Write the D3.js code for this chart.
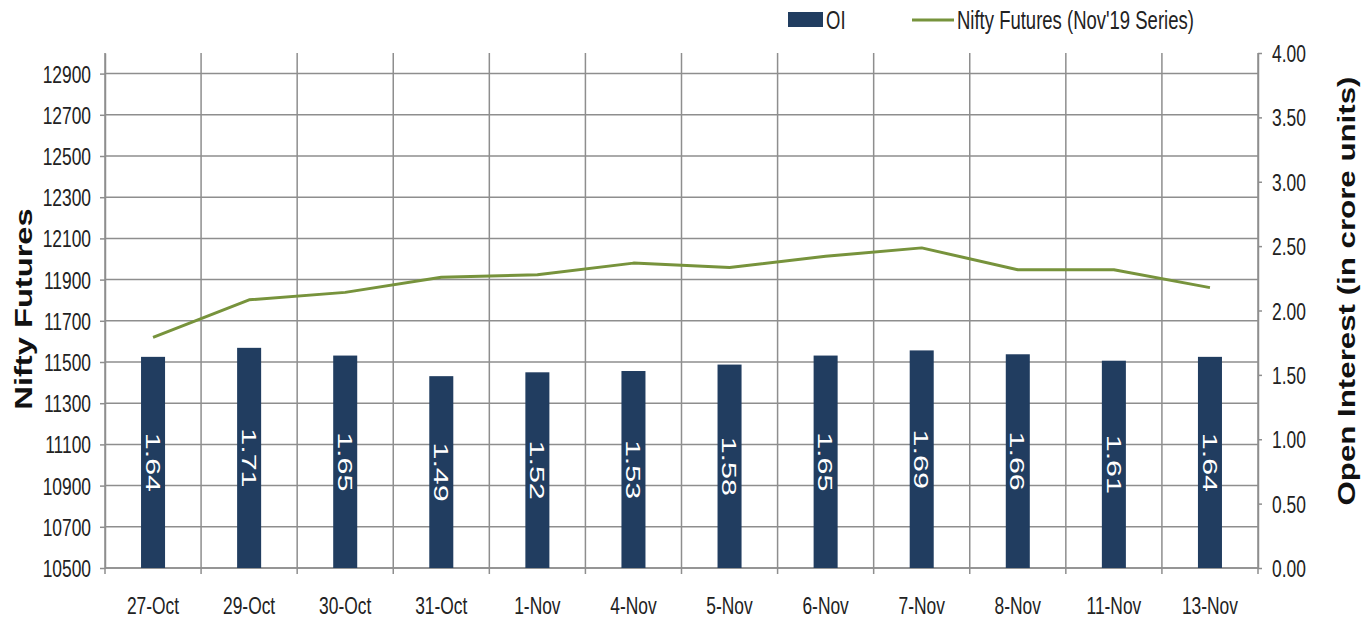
<!DOCTYPE html>
<html>
<head>
<meta charset="utf-8">
<script src="https://cdn.jsdelivr.net/npm/d3@7"></script>
<style>
  body { margin: 0; background: #fff; }
  svg text { font-family: 'Liberation Sans', Arial, sans-serif; }
</style>
</head>
<body>
<div class="chart-container"></div>
<script>
const categories = ['27-Oct', '29-Oct', '30-Oct', '31-Oct', '1-Nov', '4-Nov', '5-Nov', '6-Nov', '7-Nov', '8-Nov', '11-Nov', '13-Nov']
const oiValues = [1.64, 1.71, 1.65, 1.49, 1.52, 1.53, 1.58, 1.65, 1.69, 1.66, 1.61, 1.64]
const niftyValues = [11620, 11802, 11838, 11911, 11923, 11980, 11959, 12013, 12054, 11948, 11948, 11861]
const leftTicks = d3.range(10500, 12901, 200)
const rightTicks = d3.range(0, 4.01, 0.5)

const width = 1371
const height = 622
const plot = { left: 105, right: 1258, top: 53, bottom: 568 }
// the source picture is stretched vertically, so text gets scaled the same way
const STRETCH = 1.36
const BAR_COLOR = '#213d60'
const LINE_COLOR = '#77933c'
const GRID_COLOR = '#8e8e8e'
const TEXT_COLOR = '#222'

const svg = d3
    .select('.chart-container')
    .append('svg')
    .attr('width', width)
    .attr('height', height)

const x = d3
    .scaleBand()
    .domain(categories)
    .range([plot.left, plot.right])
    .padding(0)

const yLeft = d3.scaleLinear().domain([10500, 13000]).range([plot.bottom, plot.top])
const yRight = d3.scaleLinear().domain([0, 4]).range([plot.bottom, plot.top])

const data = categories.map((c, i) => ({ cat: c, oi: oiValues[i], nifty: niftyValues[i] }))

// grid
svg.append('g')
    .selectAll('line')
    .data(leftTicks)
    .enter()
    .append('line')
    .attr('x1', plot.left)
    .attr('x2', plot.right)
    .attr('y1', d => yLeft(d))
    .attr('y2', d => yLeft(d))
    .attr('stroke', GRID_COLOR)
    .attr('stroke-width', 1.5)

const bounds = categories.map(c => x(c)).concat([plot.right])
svg.append('g')
    .selectAll('line')
    .data(bounds)
    .enter()
    .append('line')
    .attr('x1', d => d)
    .attr('x2', d => d)
    .attr('y1', plot.top)
    .attr('y2', plot.bottom + 6)
    .attr('stroke', GRID_COLOR)
    .attr('stroke-width', 1.5)

// x baseline
svg.append('line')
    .attr('x1', plot.left)
    .attr('x2', plot.right)
    .attr('y1', plot.bottom)
    .attr('y2', plot.bottom)
    .attr('stroke', GRID_COLOR)
    .attr('stroke-width', 1.5)

function stretchText(sel, k) {
    sel.attr('transform', `scale(1,${k})`)
}

// left axis
const leftAxis = svg
    .append('g')
    .attr('transform', `translate(${plot.left},0)`)
    .call(
        d3.axisLeft(yLeft)
            .tickValues(leftTicks)
            .tickFormat(d3.format('d'))
            .tickSize(5)
            .tickSizeOuter(0)
            .tickPadding(9)
    )
leftAxis.select('.domain').attr('stroke', GRID_COLOR).attr('stroke-width', 1.5)
leftAxis.selectAll('.tick line').attr('stroke', GRID_COLOR).attr('stroke-width', 1.5)
leftAxis
    .selectAll('.tick text')
    .attr('font-size', 17.4)
    .attr('fill', TEXT_COLOR)
    .attr('dy', '0.36em')
    .call(stretchText, STRETCH)

// right axis
const rightAxis = svg
    .append('g')
    .attr('transform', `translate(${plot.right},0)`)
    .call(
        d3.axisRight(yRight)
            .tickValues(rightTicks)
            .tickFormat(d3.format('.2f'))
            .tickSize(4)
            .tickSizeOuter(0)
            .tickPadding(10)
    )
rightAxis.select('.domain').attr('stroke', GRID_COLOR).attr('stroke-width', 1.5)
rightAxis.selectAll('.tick line').attr('stroke', GRID_COLOR).attr('stroke-width', 1.5)
rightAxis
    .selectAll('.tick text')
    .attr('font-size', 17.4)
    .attr('fill', TEXT_COLOR)
    .attr('dy', '0.36em')
    .call(stretchText, STRETCH)

// x labels
svg.append('g')
    .selectAll('g')
    .data(categories)
    .enter()
    .append('g')
    .attr('transform', d => `translate(${x(d) + x.bandwidth() / 2},${plot.bottom + 46})`)
    .append('text')
    .attr('text-anchor', 'middle')
    .attr('font-size', 17.4)
    .attr('fill', TEXT_COLOR)
    .text(d => d)
    .call(stretchText, STRETCH)

// bars
const barW = x.bandwidth() * 0.25
svg.append('g')
    .selectAll('rect')
    .data(data)
    .enter()
    .append('rect')
    .attr('x', d => x(d.cat) + (x.bandwidth() - barW) / 2)
    .attr('y', d => yRight(d.oi))
    .attr('width', barW)
    .attr('height', d => plot.bottom - yRight(d.oi))
    .attr('fill', BAR_COLOR)

// bar labels, rotated clockwise
svg.append('g')
    .selectAll('text')
    .data(data)
    .enter()
    .append('text')
    .attr('transform', d => {
        const cx = x(d.cat) + x.bandwidth() / 2
        const cy = (yRight(d.oi) + plot.bottom) / 2
        return `translate(${cx},${cy}) rotate(90) scale(1.45,1)`
    })
    .attr('text-anchor', 'middle')
    .attr('dy', '0.35em')
    .attr('font-size', 21)
    .attr('fill', '#fff')
    .text(d => d.oi.toFixed(2))

// nifty line
const line = d3
    .line()
    .x(d => x(d.cat) + x.bandwidth() / 2)
    .y(d => yLeft(d.nifty))
svg.append('path')
    .datum(data)
    .attr('d', line)
    .attr('fill', 'none')
    .attr('stroke', LINE_COLOR)
    .attr('stroke-width', 3)
    .attr('stroke-linejoin', 'round')

// axis titles
svg.append('text')
    .attr('transform', `translate(32,309) rotate(-90) scale(1.42,1)`)
    .attr('text-anchor', 'middle')
    .attr('font-size', 23)
    .attr('font-weight', 'bold')
    .attr('fill', '#111')
    .text('Nifty Futures')

svg.append('text')
    .attr('transform', `translate(1355,291) rotate(-90) scale(${STRETCH},1)`)
    .attr('text-anchor', 'middle')
    .attr('font-size', 23)
    .attr('font-weight', 'bold')
    .attr('fill', '#111')
    .text('Open Interest (in crore units)')

// legend
const legend = svg.append('g')
legend.append('rect')
    .attr('x', 788)
    .attr('y', 12)
    .attr('width', 35)
    .attr('height', 15)
    .attr('fill', BAR_COLOR)
legend.append('g')
    .attr('transform', 'translate(826,29)')
    .append('text')
    .attr('font-size', 18.5)
    .attr('fill', TEXT_COLOR)
    .text('OI')
    .call(stretchText, STRETCH)
legend.append('line')
    .attr('x1', 912)
    .attr('x2', 954)
    .attr('y1', 20)
    .attr('y2', 20)
    .attr('stroke', LINE_COLOR)
    .attr('stroke-width', 3)
legend.append('g')
    .attr('transform', 'translate(957,29)')
    .append('text')
    .attr('font-size', 18.5)
    .attr('fill', TEXT_COLOR)
    .text("Nifty Futures (Nov'19 Series)")
    .call(stretchText, STRETCH)
</script>
</body>
</html>
